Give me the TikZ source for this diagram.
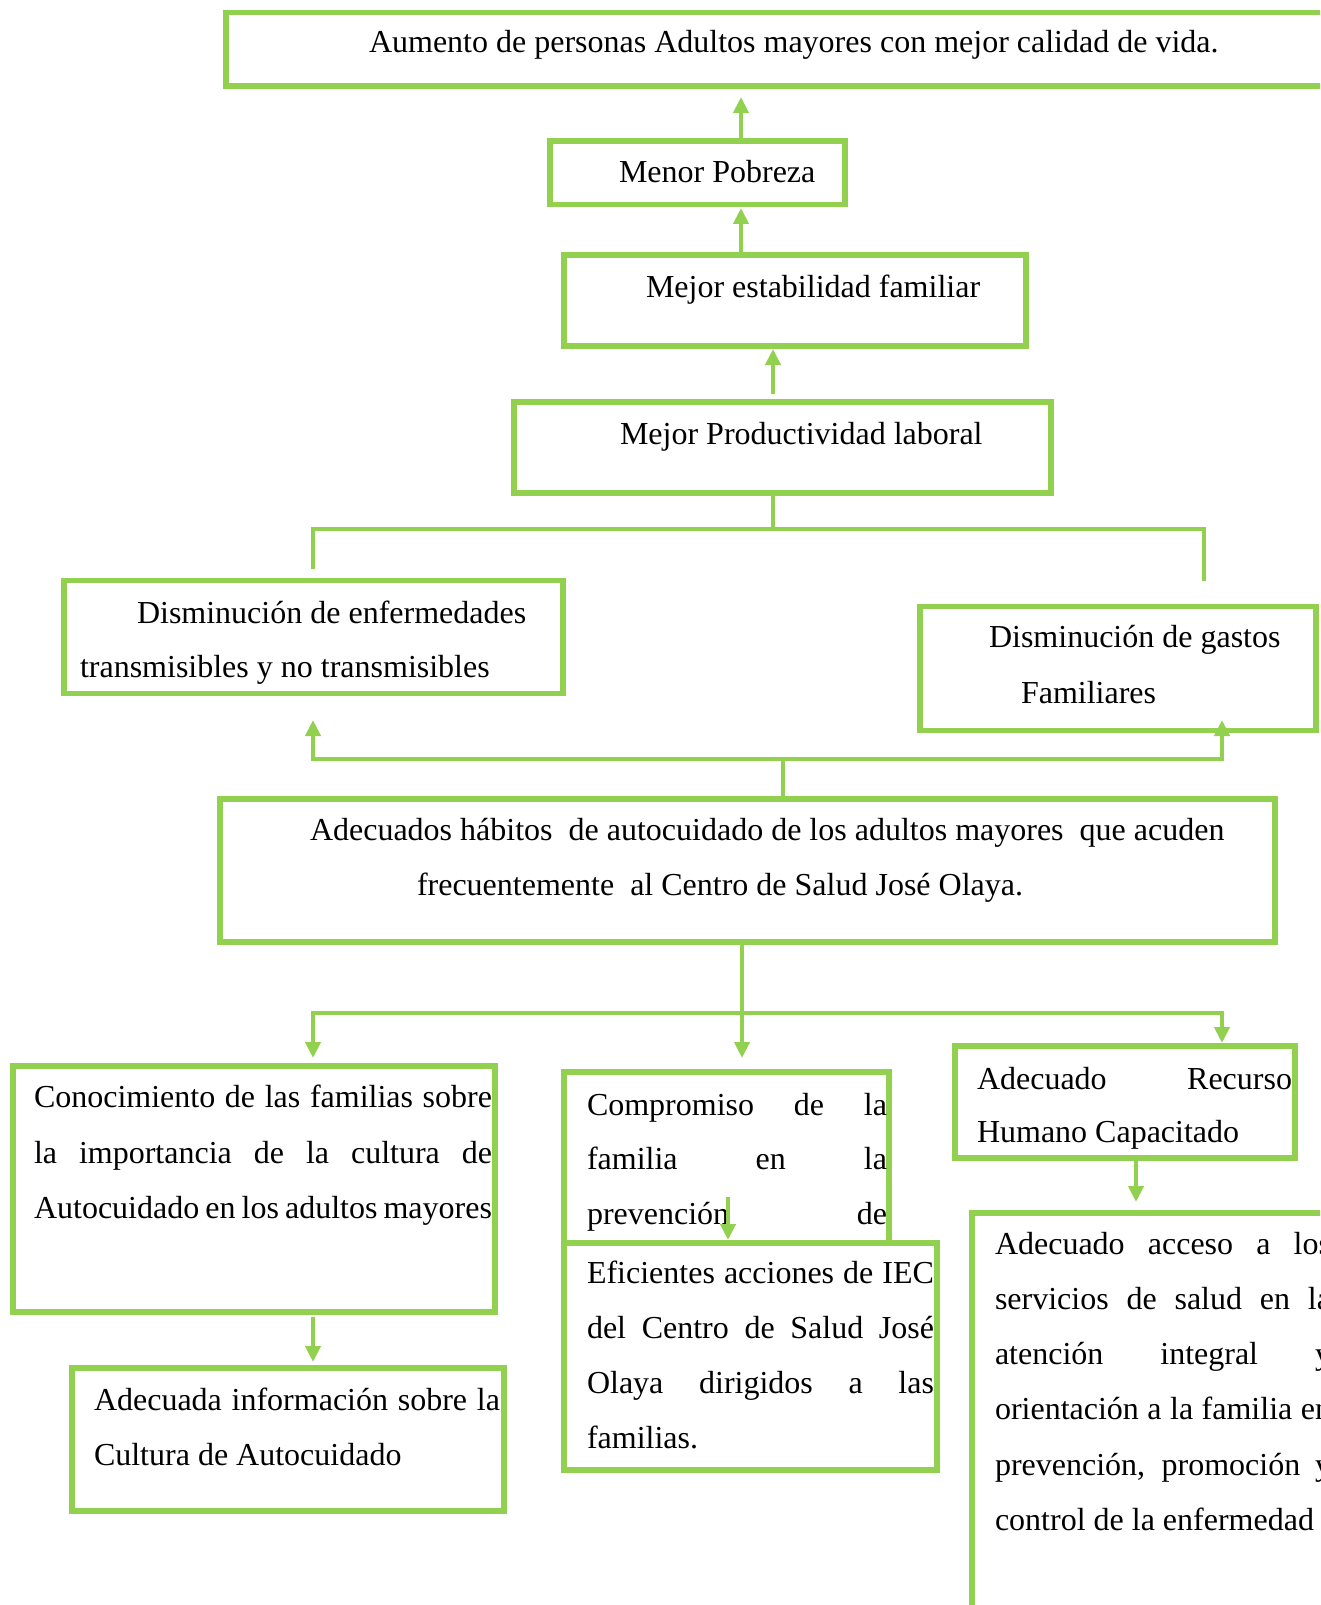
\documentclass[tikz,border=0pt]{standalone}
\usepackage{fontspec}
\setmainfont{Liberation Serif}
\usetikzlibrary{arrows.meta,calc}
\definecolor{G}{RGB}{146,208,80}
\newcommand\jline[2]{\makebox[#1][s]{#2}}
\begin{document}
\begin{tikzpicture}[x=1pt,y=-1pt,
  box/.style={draw=G,line width=5.5pt,inner sep=0pt,outer sep=0pt,anchor=north west,rectangle},
  txt/.style={inner sep=0pt,outer sep=0pt,anchor=base west,font=\fontsize{32}{55}\selectfont,text=black},
  conn/.style={draw=G,line width=4.5pt},
  arr/.style={conn,-{Triangle[length=16pt,width=15pt]}}]
\useasboundingbox (0,0) rectangle (1320,1605);
\clip (0,0) rectangle (1320,1605);
% boxes
\node[box,minimum width=1119pt,minimum height=73.5pt] (top) at (226,12.5) {};
\node[box,minimum width=295pt,minimum height=63.5pt] (pob) at (550,141) {};
\node[box,minimum width=462pt,minimum height=91pt] (est) at (564,255) {};
\node[box,minimum width=537pt,minimum height=91pt] (prod) at (514,402) {};
\node[box,minimum width=499pt,minimum height=113pt] (enf) at (64,580.5) {};
\node[box,minimum width=396pt,minimum height=124pt] (gas) at (920,606.5) {};
\node[box,minimum width=1055pt,minimum height=143pt] (hab) at (220,799) {};
\node[box,minimum width=482pt,minimum height=246pt] (con) at (13,1066) {};
\node[box,minimum width=432pt,minimum height=143pt] (inf) at (72,1368) {};
\node[box,minimum width=325pt,minimum height=171pt] (com) at (564,1072) {};
\node[box,minimum width=373pt,minimum height=227pt] (efi) at (564,1243) {};
\node[box,minimum width=340pt,minimum height=112pt] (rec) at (955,1046) {};
\node[box,minimum width=388pt,minimum height=437pt] (acc) at (972,1213) {};
% texts
\node[txt] (ttop) at (369,53) {Aumento de personas Adultos mayores con mejor calidad de vida.};
\node[txt] (tpob) at (619,183) {Menor Pobreza};
\node[txt] (test) at (646,297) {Mejor estabilidad familiar};
\node[txt] (tprod) at (620,444) {Mejor Productividad laboral};
\node[txt] (tenf) at (80,623) {\parbox[t]{500pt}{\fontsize{32}{54}\selectfont\hspace*{57pt}Disminución de enfermedades\\transmisibles y no transmisibles}};
\node[txt] (tgas) at (989,647) {\parbox[t]{330pt}{\fontsize{32}{56}\selectfont Disminución de gastos\\\hspace*{32pt}Familiares}};
\node[txt] (thab) at (310,840) {\parbox[t]{960pt}{\fontsize{32}{55}\selectfont Adecuados hábitos\ \ de autocuidado de los adultos mayores\ \ que acuden\\\hspace*{107pt}frecuentemente\ \ al Centro de Salud José Olaya.}};
\node[txt] (tcon) at (34,1107.5) {\parbox[t]{458pt}{\fontsize{32}{55.7}\selectfont\jline{458pt}{Conocimiento de las familias sobre}\\\jline{458pt}{la importancia de la cultura de}\\\jline{458pt}{Autocuidado en los adultos mayores}}};
\node[txt] (tinf) at (94,1410) {\parbox[t]{406pt}{\fontsize{32}{55}\selectfont\jline{406pt}{Adecuada información sobre la}\\Cultura de Autocuidado}};
\node[txt] (tcom) at (587,1115) {\parbox[t]{300pt}{\fontsize{32}{54.5}\selectfont\jline{300pt}{Compromiso de la}\\\jline{300pt}{familia en la}\\\jline{300pt}{prevención de}}};
\node[txt] (tefi) at (587,1283) {\parbox[t]{347pt}{\fontsize{32}{55.3}\selectfont\jline{347pt}{Eficientes acciones de IEC}\\\jline{347pt}{del Centro de Salud José}\\\jline{347pt}{Olaya dirigidos a las}\\familias.}};
\node[txt] (trec) at (977,1089) {\parbox[t]{315pt}{\fontsize{32}{53}\selectfont\jline{315pt}{Adecuado Recurso}\\Humano Capacitado}};
\node[txt] (tacc) at (995,1254) {\parbox[t]{336pt}{\fontsize{32}{55.3}\selectfont\jline{336pt}{Adecuado acceso a los}\\\jline{336pt}{servicios de salud en la}\\\jline{336pt}{atención integral y}\\\jline{336pt}{orientación a la familia en}\\\jline{336pt}{prevención, promoción y}\\control de la enfermedad}};
% connectors
\draw[arr] ($(pob.north west)+(191,0)$) -- ($(top.south west)+(515,11)$);
\draw[arr] ($(est.north west)+(177,0)$) -- ($(pob.south west)+(191,3.5)$);
\draw[arr] ($(prod.north west)+(259,-8)$) -- ($(est.south west)+(209,3)$);
\draw[conn] ($(enf.north west)+(249,-11.5)$) |- ($(prod.south west)+(259,36)$) -- ($(prod.south west)+(259,0)$);
\draw[conn] ($(gas.north west)+(284,-25.5)$) |- ($(prod.south west)+(259,36)$);
\draw[arr] ($(hab.north west)+(563,0)$) |- ($(enf.south west)+(249,65.5)$) -- ($(enf.south west)+(249,26.5)$);
\draw[arr] ($(hab.north west)+(563,0)$) |- ($(gas.south west)+(302,28.5)$) -- ($(gas.south west)+(302,-10.5)$);
\draw[arr] ($(hab.south west)+(522,0)$) -- ($(com.north west)+(178,-14)$);
\draw[arr] ($(hab.south west)+(522,71)$) -| ($(con.north west)+(300,-8)$);
\draw[arr] ($(hab.south west)+(522,71)$) -| ($(rec.north west)+(267,-3)$);
\draw[arr] ($(con.south west)+(300,5)$) -- ($(inf.north west)+(241,-6)$);
\draw[arr] ($(com.north west)+(164,125)$) -- ($(efi.north west)+(164,-3)$);
\draw[arr] ($(rec.south west)+(181,0)$) -- ($(acc.north west)+(164,-11)$);
\end{tikzpicture}
\end{document}
